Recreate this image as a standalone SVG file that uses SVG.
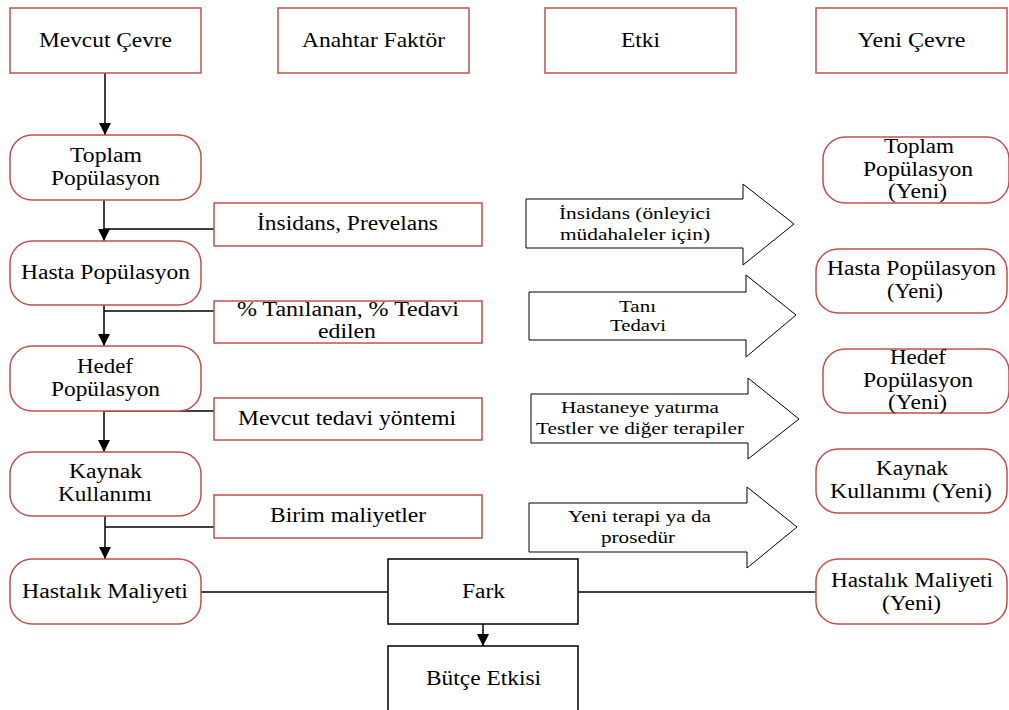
<svg xmlns="http://www.w3.org/2000/svg" width="1009" height="710" viewBox="0 0 1009 710">
<defs>
<marker id="ah" viewBox="0 0 12 12" refX="12" refY="6" markerWidth="12" markerHeight="12" markerUnits="userSpaceOnUse" orient="auto">
<path d="M0,0 L12,6 L0,12 Z" fill="#000"/>
</marker>
<style>
.hdr{fill:#fff;stroke:#c0504d;stroke-width:1.5}
.rnd{fill:#fff;stroke:#c0504d;stroke-width:1.5}
.key{fill:#fff;stroke:#c0504d;stroke-width:1.5}
.blk{fill:#fff;stroke:#000;stroke-width:1.5}
.barr{fill:#fff;stroke:#000;stroke-width:1}
text{font-family:'Liberation Serif','Times New Roman',serif;fill:#000;text-anchor:middle}
.t{font-size:20px}
.th{font-size:21px}
.ta{font-size:17px}
.ln{stroke:#000;stroke-width:1.5;fill:none}
</style>
</defs>
<rect width="1009" height="710" fill="#fff"/>

<g id="connectors">
<line class="ln" x1="105" y1="73" x2="105" y2="135" marker-end="url(#ah)"/>
<line class="ln" x1="104" y1="200" x2="104" y2="241" marker-end="url(#ah)"/>
<line class="ln" x1="214" y1="229" x2="104" y2="229"/>
<line class="ln" x1="104" y1="305" x2="104" y2="346" marker-end="url(#ah)"/>
<line class="ln" x1="214" y1="311" x2="104" y2="311"/>
<line class="ln" x1="104" y1="411" x2="104" y2="452" marker-end="url(#ah)"/>
<line class="ln" x1="214" y1="411" x2="104" y2="411"/>
<line class="ln" x1="105" y1="516" x2="105" y2="559" marker-end="url(#ah)"/>
<line class="ln" x1="214" y1="527" x2="105" y2="527"/>
<line class="ln" x1="201" y1="592" x2="388" y2="592"/>
<line class="ln" x1="578" y1="592" x2="816" y2="592"/>
<line class="ln" x1="483" y1="624" x2="483" y2="646" marker-end="url(#ah)"/>
</g>

<g id="h-mevcut"><rect class="hdr" x="10" y="8" width="191" height="65"/><text class="th" x="105.5" y="47" textLength="133" lengthAdjust="spacingAndGlyphs">Mevcut Çevre</text></g>
<g id="h-anahtar"><rect class="hdr" x="278" y="8" width="191" height="65"/><text class="th" x="373.5" y="47" textLength="143" lengthAdjust="spacingAndGlyphs">Anahtar Faktör</text></g>
<g id="h-etki"><rect class="hdr" x="545" y="8" width="191" height="65"/><text class="th" x="640.5" y="47" textLength="39" lengthAdjust="spacingAndGlyphs">Etki</text></g>
<g id="h-yeni"><rect class="hdr" x="816" y="8" width="191" height="65"/><text class="th" x="911.5" y="47" textLength="108" lengthAdjust="spacingAndGlyphs">Yeni Çevre</text></g>

<g id="l-toplam"><rect class="rnd" x="10" y="135" width="191" height="65" rx="22"/><text class="t" x="106" y="162" textLength="72" lengthAdjust="spacingAndGlyphs">Toplam</text><text class="t" x="105.5" y="185" textLength="109" lengthAdjust="spacingAndGlyphs">Popülasyon</text></g>
<g id="l-hasta"><rect class="rnd" x="10" y="241" width="191" height="64" rx="22"/><text class="t" x="105.5" y="279" textLength="169" lengthAdjust="spacingAndGlyphs">Hasta Popülasyon</text></g>
<g id="l-hedef"><rect class="rnd" x="10" y="346" width="191" height="65" rx="22"/><text class="t" x="105" y="373" textLength="56" lengthAdjust="spacingAndGlyphs">Hedef</text><text class="t" x="105.5" y="396" textLength="109" lengthAdjust="spacingAndGlyphs">Popülasyon</text></g>
<g id="l-kaynak"><rect class="rnd" x="10" y="452" width="191" height="64" rx="22"/><text class="t" x="105.5" y="478" textLength="73" lengthAdjust="spacingAndGlyphs">Kaynak</text><text class="t" x="105" y="501" textLength="94" lengthAdjust="spacingAndGlyphs">Kullanımı</text></g>
<g id="l-maliyet"><rect class="rnd" x="10" y="559" width="191" height="65" rx="22"/><text class="t" x="105" y="598" textLength="166" lengthAdjust="spacingAndGlyphs">Hastalık Maliyeti</text></g>

<g id="k-insidans"><rect class="key" x="214" y="203" width="268" height="43"/><text class="t" x="347.5" y="230" textLength="181" lengthAdjust="spacingAndGlyphs">İnsidans, Prevelans</text></g>
<g id="k-tani"><rect class="key" x="214" y="301" width="268" height="42"/><text class="t" x="348" y="316" textLength="222" lengthAdjust="spacingAndGlyphs">% Tanılanan, % Tedavi</text><text class="t" x="347" y="338" textLength="58" lengthAdjust="spacingAndGlyphs">edilen</text></g>
<g id="k-tedavi"><rect class="key" x="214" y="398" width="268" height="42"/><text class="t" x="347" y="425" textLength="218" lengthAdjust="spacingAndGlyphs">Mevcut tedavi yöntemi</text></g>
<g id="k-birim"><rect class="key" x="214" y="495" width="268" height="43"/><text class="t" x="348" y="522" textLength="156" lengthAdjust="spacingAndGlyphs">Birim maliyetler</text></g>

<g id="a-insidans"><path class="barr" d="M526,199 H743 V184 L794,224 L743,265 V248 H526 Z"/><text class="ta" x="635" y="219" textLength="152" lengthAdjust="spacingAndGlyphs">İnsidans (önleyici</text><text class="ta" x="635" y="240" textLength="150" lengthAdjust="spacingAndGlyphs">müdahaleler için)</text></g>
<g id="a-tani"><path class="barr" d="M529,292 H746 V275 L796,315 L746,357 V340 H529 Z"/><text class="ta" x="637.5" y="312" textLength="37" lengthAdjust="spacingAndGlyphs">Tanı</text><text class="ta" x="638" y="331" textLength="56" lengthAdjust="spacingAndGlyphs">Tedavi</text></g>
<g id="a-hastane"><path class="barr" d="M531,394 H748 V378 L799,419 L748,459 V443 H531 Z"/><text class="ta" x="640" y="413" textLength="158" lengthAdjust="spacingAndGlyphs">Hastaneye yatırma</text><text class="ta" x="640" y="434" textLength="208" lengthAdjust="spacingAndGlyphs">Testler ve diğer terapiler</text></g>
<g id="a-yeni"><path class="barr" d="M529,503 H747 V487 L797,527 L747,568 V552 H529 Z"/><text class="ta" x="639.5" y="522" textLength="143" lengthAdjust="spacingAndGlyphs">Yeni terapi ya da</text><text class="ta" x="638" y="543" textLength="74" lengthAdjust="spacingAndGlyphs">prosedür</text></g>

<g id="r-toplam"><rect class="rnd" x="823" y="137" width="186" height="66" rx="22"/><text class="t" x="919" y="153" textLength="70" lengthAdjust="spacingAndGlyphs">Toplam</text><text class="t" x="918" y="176" textLength="110" lengthAdjust="spacingAndGlyphs">Popülasyon</text><text class="t" x="917.5" y="198" textLength="59" lengthAdjust="spacingAndGlyphs">(Yeni)</text></g>
<g id="r-hasta"><rect class="rnd" x="816" y="249" width="191" height="64" rx="22"/><text class="t" x="911.5" y="275" textLength="169" lengthAdjust="spacingAndGlyphs">Hasta Popülasyon</text><text class="t" x="915" y="298" textLength="56" lengthAdjust="spacingAndGlyphs">(Yeni)</text></g>
<g id="r-hedef"><rect class="rnd" x="823" y="349" width="186" height="64" rx="22"/><text class="t" x="918" y="364" textLength="56" lengthAdjust="spacingAndGlyphs">Hedef</text><text class="t" x="918" y="387" textLength="110" lengthAdjust="spacingAndGlyphs">Popülasyon</text><text class="t" x="917.5" y="409" textLength="59" lengthAdjust="spacingAndGlyphs">(Yeni)</text></g>
<g id="r-kaynak"><rect class="rnd" x="816" y="449" width="191" height="64" rx="22"/><text class="t" x="912" y="475" textLength="72" lengthAdjust="spacingAndGlyphs">Kaynak</text><text class="t" x="911" y="498" textLength="162" lengthAdjust="spacingAndGlyphs">Kullanımı (Yeni)</text></g>
<g id="r-maliyet"><rect class="rnd" x="816" y="559" width="191" height="65" rx="22"/><text class="t" x="912" y="587" textLength="162" lengthAdjust="spacingAndGlyphs">Hastalık Maliyeti</text><text class="t" x="911.5" y="610" textLength="59" lengthAdjust="spacingAndGlyphs">(Yeni)</text></g>

<g id="fark"><rect class="blk" x="388" y="559" width="190" height="65"/><text class="t" x="483.5" y="598" textLength="43" lengthAdjust="spacingAndGlyphs">Fark</text></g>
<g id="butce"><rect class="blk" x="388" y="646" width="190" height="70"/><text class="t" x="483.5" y="685" textLength="115" lengthAdjust="spacingAndGlyphs">Bütçe Etkisi</text></g>
</svg>
